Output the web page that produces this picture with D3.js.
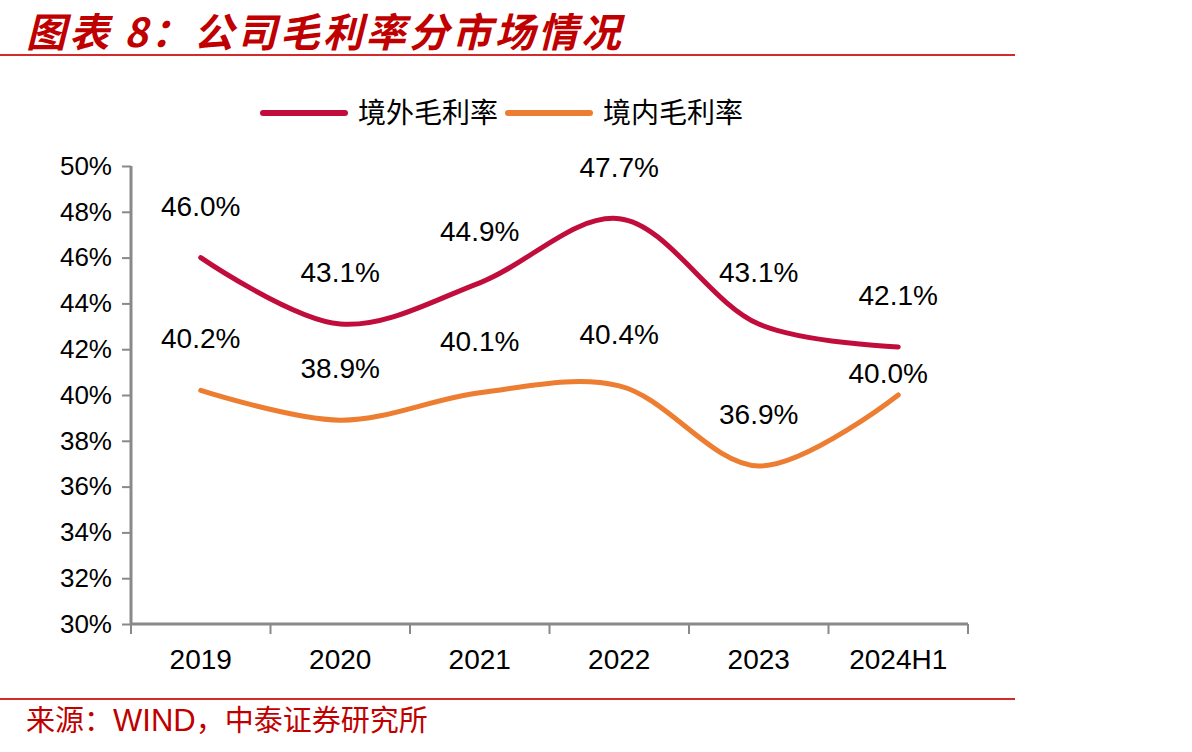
<!DOCTYPE html>
<html>
<head>
<meta charset="utf-8">
<script src="https://cdn.jsdelivr.net/npm/d3@7"></script>
<style>
  body { margin: 0; background: #fff; }
  svg { display: block; }
</style>
</head>
<body>
<svg id="chart" width="1192" height="752"></svg>
<script>
const categories = ['2019', '2020', '2021', '2022', '2023', '2024H1'];
const overseas = [46.0, 43.1, 44.9, 47.7, 43.1, 42.1];
const domestic = [40.2, 38.9, 40.1, 40.4, 36.9, 40.0];
const yTicks = [30, 32, 34, 36, 38, 40, 42, 44, 46, 48, 50];

const series = [
  { name: '境外毛利率', values: overseas, color: '#C00D3C' },
  { name: '境内毛利率', values: domestic, color: '#ED7D31' }
];

const svg = d3.select('#chart');
const red = '#C00000';
const axisColor = '#898989';
const labelFont = '"Liberation Sans", Arial, sans-serif';
const cjkFont = '"Noto Sans CJK SC", sans-serif';

// title
svg.append('text')
    .attr('x', 26)
    .attr('y', 47)
    .attr('fill', red)
    .attr('font-family', cjkFont)
    .attr('font-weight', 'bold')
    .attr('font-style', 'italic')
    .attr('font-size', 40)
    .attr('letter-spacing', 3)
    .text('图表 8：公司毛利率分市场情况');

svg.append('line')
    .attr('x1', 0).attr('x2', 1015)
    .attr('y1', 55).attr('y2', 55)
    .attr('stroke', '#D42A2A').attr('stroke-width', 2);

svg.append('line')
    .attr('x1', 0).attr('x2', 1015)
    .attr('y1', 699).attr('y2', 699)
    .attr('stroke', '#D42A2A').attr('stroke-width', 2);

// source
svg.append('text')
    .attr('x', 26)
    .attr('y', 731)
    .attr('fill', red)
    .attr('font-size', 29)
    .attr('font-family', cjkFont)
    .call(t => {
      t.append('tspan').text('来源：');
      t.append('tspan').attr('font-family', labelFont).attr('font-size', 31).text('WIND');
      t.append('tspan').text('，中泰证券研究所');
    });

var margin = { left: 131, top: 166, right: 968, bottom: 624 };

var x = d3.scaleBand()
    .domain(categories)
    .range([margin.left, margin.right]);

var y = d3.scaleLinear()
    .domain([30, 50])
    .range([margin.bottom, margin.top]);

// axes
var yAxis = svg.append('g')
    .attr('transform', `translate(${margin.left},0)`)
    .call(d3.axisLeft(y).tickValues(yTicks).tickSize(9).tickPadding(10).tickFormat(d => d + '%'));

var xAxis = svg.append('g')
    .attr('transform', `translate(0,${margin.bottom})`)
    .call(d3.axisBottom(x).tickSize(0).tickPadding(25));

// boundary ticks between categories
svg.append('g')
    .selectAll('line')
    .data(d3.range(categories.length + 1))
    .enter()
    .append('line')
      .attr('x1', i => margin.left + i * x.step())
      .attr('x2', i => margin.left + i * x.step())
      .attr('y1', margin.bottom)
      .attr('y2', margin.bottom + 10)
      .attr('stroke', axisColor)
      .attr('stroke-width', 2);

[yAxis, xAxis].forEach(a => {
  a.select('.domain').attr('stroke', axisColor).attr('stroke-width', 3);
  a.selectAll('.tick line').attr('stroke', axisColor).attr('stroke-width', 2);
  a.selectAll('.tick text')
      .attr('fill', '#000')
      .attr('font-family', labelFont);
});
yAxis.selectAll('.tick text').attr('font-size', 26);
xAxis.selectAll('.tick text').attr('font-size', 28);
xAxis.select('.domain').attr('d', `M${margin.left},0H${margin.right}`);
yAxis.select('.domain').attr('d', `M0,${margin.top}V${margin.bottom}`);

// lines
var line = d3.line()
    .x((d, i) => x(categories[i]) + x.bandwidth() / 2)
    .y(d => y(d))
    .curve(d3.curveCatmullRom.alpha(0.5));

series.forEach((s, si) => {
  svg.append('path')
      .datum(s.values)
      .attr('fill', 'none')
      .attr('stroke', s.color)
      .attr('stroke-width', 5)
      .attr('stroke-linecap', 'round')
      .attr('d', line);

  svg.selectAll(null)
      .data(s.values)
      .enter()
      .append('text')
        // last domestic label sits lower, under the red line
        .attr('x', (d, i) => x(categories[i]) + x.bandwidth() / 2 - (si === 1 && i === 5 ? 10 : 0))
        .attr('y', (d, i) => y(d) - (si === 1 && i === 5 ? 12 : 42))
        .attr('text-anchor', 'middle')
        .attr('font-size', 28)
        .attr('font-family', labelFont)
        .attr('fill', '#000')
        .text(d => d.toFixed(1) + '%');
});

// legend
var legend = svg.append('g');
var lx = [263, 508];
series.forEach((s, i) => {
  legend.append('line')
      .attr('x1', lx[i]).attr('x2', lx[i] + 82)
      .attr('y1', 113).attr('y2', 113)
      .attr('stroke', s.color)
      .attr('stroke-width', 6)
      .attr('stroke-linecap', 'round');
  legend.append('text')
      .attr('x', lx[i] + 95)
      .attr('y', 123)
      .attr('font-size', 28)
      .attr('font-family', cjkFont)
      .attr('fill', '#000')
      .text(s.name);
});
</script>
</body>
</html>
